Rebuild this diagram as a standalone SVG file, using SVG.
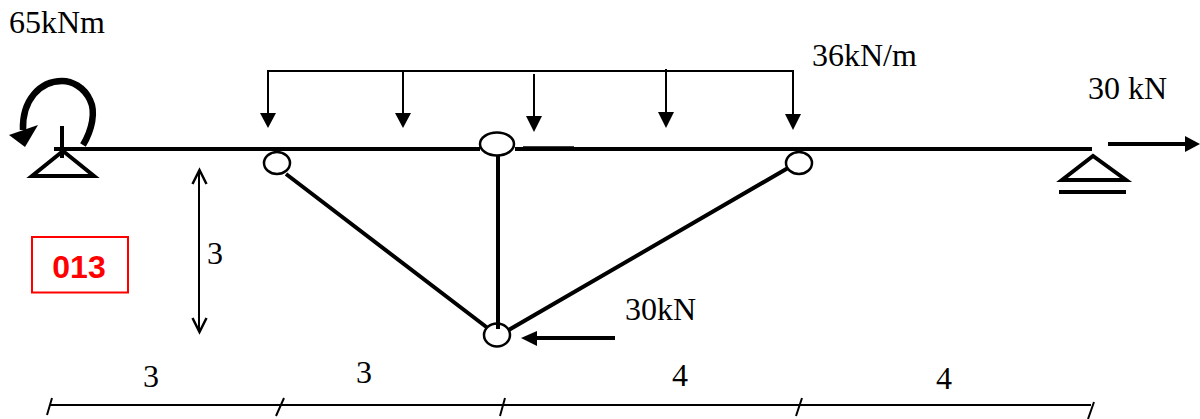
<svg xmlns="http://www.w3.org/2000/svg" width="1200" height="419" viewBox="0 0 1200 419">
<style>
.t{font-family:"Liberation Serif","Times New Roman",serif;font-size:32px;fill:#000}
.b{fill:none;stroke:#000;stroke-width:4}
.m{fill:none;stroke:#000;stroke-width:2}
.h{fill:#fff;stroke:#000;stroke-width:2.500}
.a{fill:#000;stroke:none}
</style>
<rect width="1200" height="419" fill="#fff"/>
<g id="connectors">
<path class="b" d="M54 149H480M515 149H1092"/>
<path d="M523 148.500H574" fill="none" stroke="#000" stroke-width="4.500"/>
<path class="b" d="M498 150V326M286 174L489 329M788 168L507 331"/>
<path class="m" d="M268 114V71H793V115M403 71V114M534 74V118M666 69V114"/>
<path class="a" d="M260 113H276L268 128ZM395 113H411L403 128ZM526 116H542L534 132ZM658 112H674L666 128ZM785 114H801L793 130Z"/>
<path class="m" d="M199 172V330"/>
<path d="M192.500 184L199.500 170L206.500 184M192.500 318L199.500 332L206.500 318" fill="none" stroke="#000" stroke-width="2.500"/>
<path d="M615 338H535" fill="none" stroke="#000" stroke-width="4"/>
<path class="a" d="M537 331V346L521 338Z"/>
<path d="M1108 144H1186" fill="none" stroke="#000" stroke-width="4"/>
<path class="a" d="M1185 136V152L1200 144Z"/>
<path d="M83 145C92 130 96 112 90 100C84 87 72 81 62 81C40 81 22 100 23 130" fill="none" stroke="#000" stroke-width="6.500"/>
<path class="a" d="M9 135L38 125L25 147Z"/>
<path class="m" d="M50 405H1091M52 398L47 415M284 398L276 416M505 398L500 416M802 398L796 416M1094 402L1088 419"/>
</g>
<g id="support-left"><path d="M32 176H94L63 151Z" fill="none" stroke="#000" stroke-width="4"/><path d="M62 126V158" fill="none" stroke="#000" stroke-width="4"/></g>
<g id="support-right"><path d="M1062 180H1126L1093 156Z" fill="none" stroke="#000" stroke-width="4"/><path d="M1059 192H1126" fill="none" stroke="#000" stroke-width="4"/></g>
<g id="hinge-1"><ellipse class="h" cx="277" cy="163" rx="13" ry="11"/></g>
<g id="hinge-2"><ellipse class="h" cx="497" cy="144" rx="17" ry="11.500"/></g>
<g id="hinge-3"><ellipse class="h" cx="799" cy="163" rx="13" ry="11"/></g>
<g id="hinge-4"><ellipse class="h" cx="497" cy="335" rx="13" ry="11.500"/><path d="M498 322V329" stroke="#000" stroke-width="4"/></g>
<g id="label-box"><rect x="32" y="237" width="96" height="55.500" fill="#fff" stroke="#f00" stroke-width="2"/><text x="79" y="278" text-anchor="middle" font-family="'Liberation Sans',Arial,sans-serif" font-weight="700" font-size="32" fill="#f00">013</text></g>
<g id="labels">
<text class="t" x="9" y="33">65kNm</text>
<text class="t" x="812" y="66">36kN/m</text>
<text class="t" x="1088" y="99">30 kN</text>
<text class="t" x="625" y="320">30kN</text>
<text class="t" x="207" y="264">3</text>
<text class="t" x="143" y="387">3</text>
<text class="t" x="356" y="383">3</text>
<text class="t" x="672" y="386">4</text>
<text class="t" x="936" y="389">4</text>
</g>
</svg>
